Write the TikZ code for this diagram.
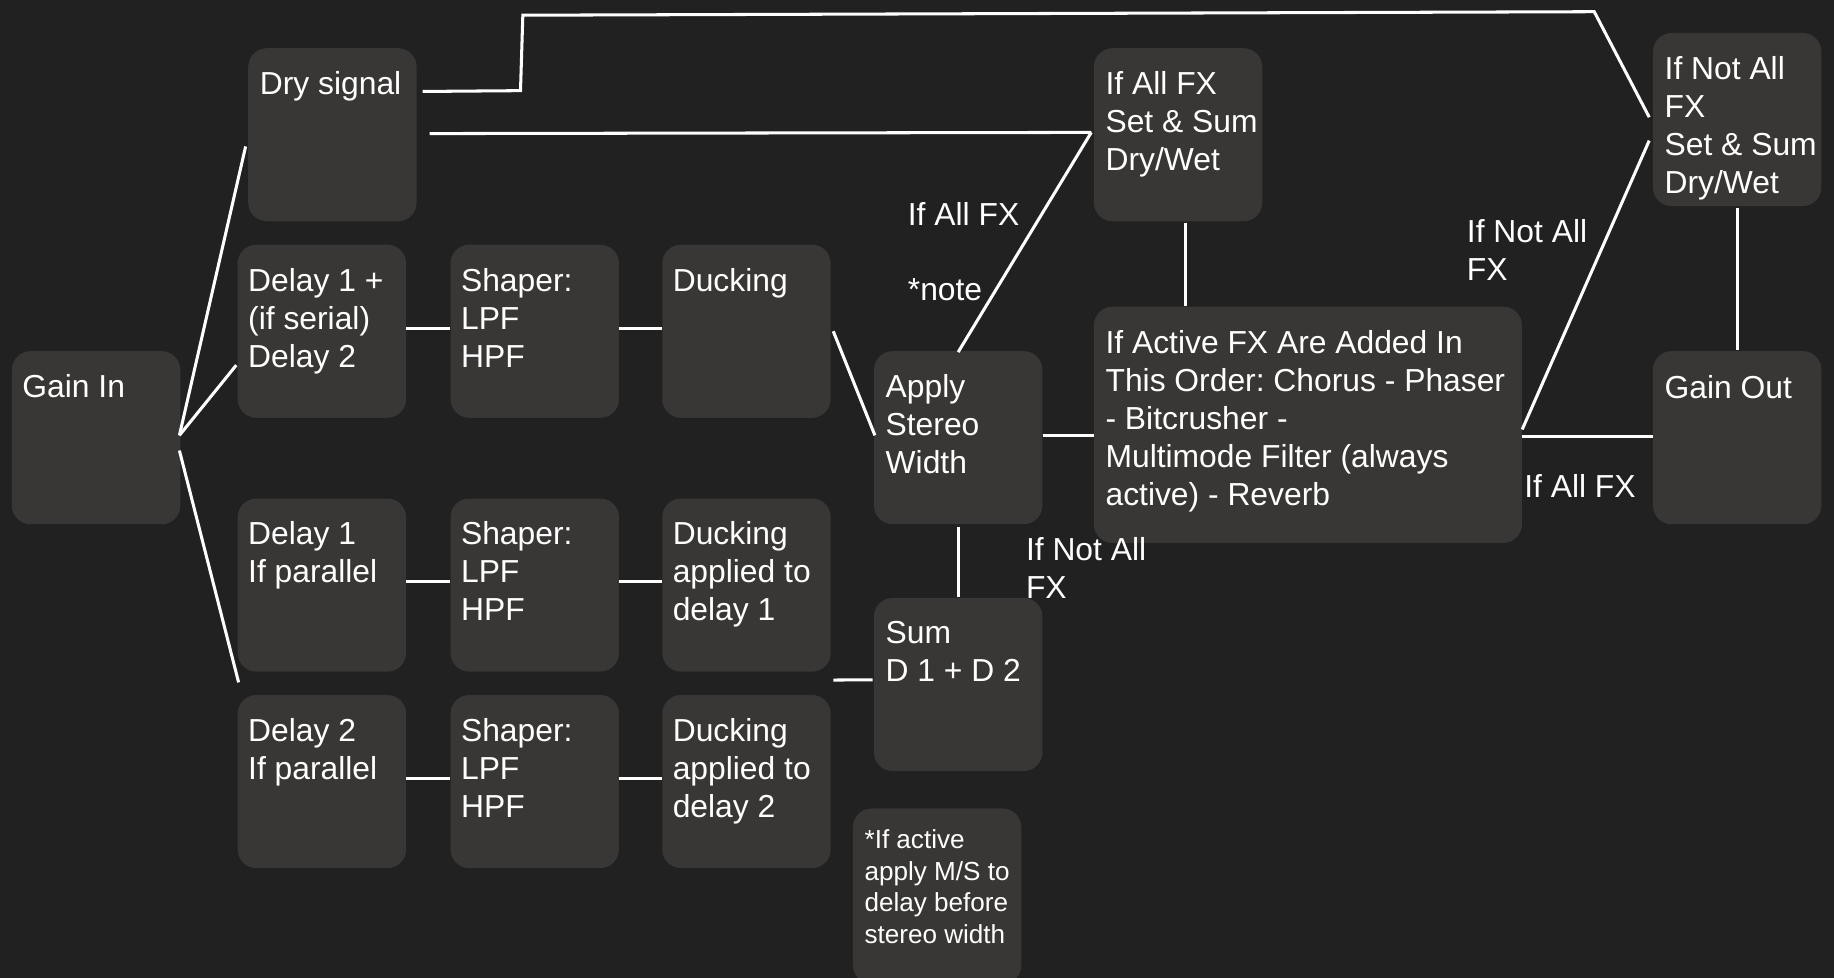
\documentclass[tikz,border=0pt]{standalone}
\usepackage{fontspec}
\setmainfont{Liberation Sans}
\usetikzlibrary{calc}
\definecolor{bgc}{RGB}{33,33,33}
\definecolor{boxc}{RGB}{56,55,53}
\frenchspacing
\tikzset{
  box/.style={fill=boxc, draw=none, rounded corners=16pt, inner sep=0pt, anchor=north west, minimum width=144pt, minimum height=148pt},
  txt/.style={text=white, font=\fontsize{27.2}{32.5}\selectfont, align=left, inner sep=0pt, anchor=north west},
  smalltxt/.style={txt, font=\fontsize{22.3}{27}\selectfont},
  wire/.style={draw=white, line width=2.6pt},
}
\begin{document}
\begin{tikzpicture}[x=1pt, y=-1pt]
\fill[bgc] (0,0) rectangle (1568,836);
\useasboundingbox (0,0) rectangle (1568,836);

% boxes
\node[box] (gin) at (10,300) {};
\node[box] (dry) at (212,41) {};
\node[box] (d1s) at (203,209) {};
\node[box] (sh1) at (385,209) {};
\node[box] (duck1) at (566,209) {};
\node[box] (d1p) at (203,426) {};
\node[box] (sh2) at (385,426) {};
\node[box] (duck2) at (566,426) {};
\node[box] (d2p) at (203,594) {};
\node[box] (sh3) at (385,594) {};
\node[box] (duck3) at (566,594) {};
\node[box] (apply) at (747,300) {};
\node[box] (sum) at (747,511) {};
\node[box, minimum height=150pt] (note) at (729,691) {};
\node[box] (allfx) at (935,41) {};
\node[box, minimum width=366pt, minimum height=202pt] (act) at (935,262) {};
\node[box] (notall) at (1413,28) {};
\node[box] (gout) at (1413,300) {};

% box texts
\node[txt] (gint) at ($(gin.north west)+(9,20)$) {Gain In};
\node[txt] (dryt) at ($(dry.north west)+(10,20)$) {Dry signal};
\node[txt] (d1st) at ($(d1s.north west)+(9,20)$) {Delay 1 +\\(if serial)\\Delay 2};
\node[txt] (sh1t) at ($(sh1.north west)+(9,20)$) {Shaper:\\LPF\\HPF};
\node[txt] (duck1t) at ($(duck1.north west)+(9,20)$) {Ducking};
\node[txt] (d1pt) at ($(d1p.north west)+(9,20)$) {Delay 1\\If parallel};
\node[txt] (sh2t) at ($(sh2.north west)+(9,20)$) {Shaper:\\LPF\\HPF};
\node[txt] (duck2t) at ($(duck2.north west)+(9,20)$) {Ducking\\applied to\\delay 1};
\node[txt] (d2pt) at ($(d2p.north west)+(9,20)$) {Delay 2\\If parallel};
\node[txt] (sh3t) at ($(sh3.north west)+(9,20)$) {Shaper:\\LPF\\HPF};
\node[txt] (duck3t) at ($(duck3.north west)+(9,20)$) {Ducking\\applied to\\delay 2};
\node[txt] (applyt) at ($(apply.north west)+(10,20)$) {Apply\\Stereo\\Width};
\node[txt] (sumt) at ($(sum.north west)+(10,20)$) {Sum\\D 1 + D 2};
\node[smalltxt] (notet) at ($(note.north west)+(10,18)$) {*If active\\apply M/S to\\delay before\\stereo width};
\node[txt] (allfxt) at ($(allfx.north west)+(10,20)$) {If All FX\\Set \& Sum\\Dry/Wet};
\node[txt] (actt) at ($(act.north west)+(10,20)$) {If Active FX Are Added In\\This Order: Chorus - Phaser\\- Bitcrusher -\\Multimode Filter (always\\active) - Reverb};
\node[txt] (notallt) at ($(notall.north west)+(10,20)$) {If Not All\\FX\\Set \& Sum\\Dry/Wet};
\node[txt] (goutt) at ($(gout.north west)+(10,21)$) {Gain Out};

% connector labels
\node[txt] (lab1) at (776,173) {If All FX};
\node[txt] (lab2) at (776,238) {*note};
\node[txt] (lab3) at (877,459) {If Not All\\FX};
\node[txt] (lab4) at (1254,187) {If Not All\\FX};
\node[txt] (lab5) at (1303,405) {If All FX};

% connectors
\draw[wire] ($(gin.east)+(-1,-2)$) -- ($(dry.west)+(-2,10)$);
\draw[wire] ($(gin.east)+(-1,-2)$) -- ($(d1s.west)+(-1,29)$);
\draw[wire] ($(gin.east)+(-1,11)$) -- ($(d1p.south west)+(1,9)$);

\draw[wire] ([yshift=2pt]d1s.east) -- ([yshift=2pt]sh1.west);
\draw[wire] ([yshift=2pt]sh1.east) -- ([yshift=2pt]duck1.west);
\draw[wire] ($(duck1.east)+(2,0)$) -- ($(apply.west)+(1,-2)$);

\draw[wire] ([yshift=3pt]d1p.east) -- ([yshift=3pt]sh2.west);
\draw[wire] ([yshift=3pt]sh2.east) -- ([yshift=3pt]duck2.west);
\draw[wire] ([yshift=3pt]d2p.east) -- ([yshift=3pt]sh3.west);
\draw[wire] ([yshift=3pt]sh3.east) -- ([yshift=3pt]duck3.west);
\draw[wire] ($(duck2.south east)+(2,7)$) -- ($(sum.west)+(-1,-4)$);

\draw[wire] ([yshift=-2pt]apply.south) -- ([yshift=1pt]sum.north);
\draw[wire] ($(apply.north)+(0,1)$) -- ($(allfx.west)+(-2,-2)$);
\draw[wire] ([yshift=2pt]apply.east) -- ([yshift=2pt]apply.east -| act.west);

\coordinate (c1) at ($(allfx.south)+(6,1)$);
\draw[wire] (c1) -- (c1 |- act.north);

\draw[wire] ($(dry.east)+(11,-1)$) -- ($(allfx.west)+(-2,-2)$);
\draw[wire] ($(dry.east)+(5,-37)$) -- (445,77.5) -- (447,13) -- (1363,10) -- ($(notall.west)+(-3,-2)$);

\draw[wire] ($(act.east)+(0,4)$) -- ($(notall.west)+(-3,18)$);
\draw[wire] ([yshift=1pt]gout.west -| act.east) -- ([yshift=1pt]gout.west);
\draw[wire] ([yshift=-1pt]notall.south) -- ([yshift=1pt]gout.north);
\end{tikzpicture}
\end{document}
